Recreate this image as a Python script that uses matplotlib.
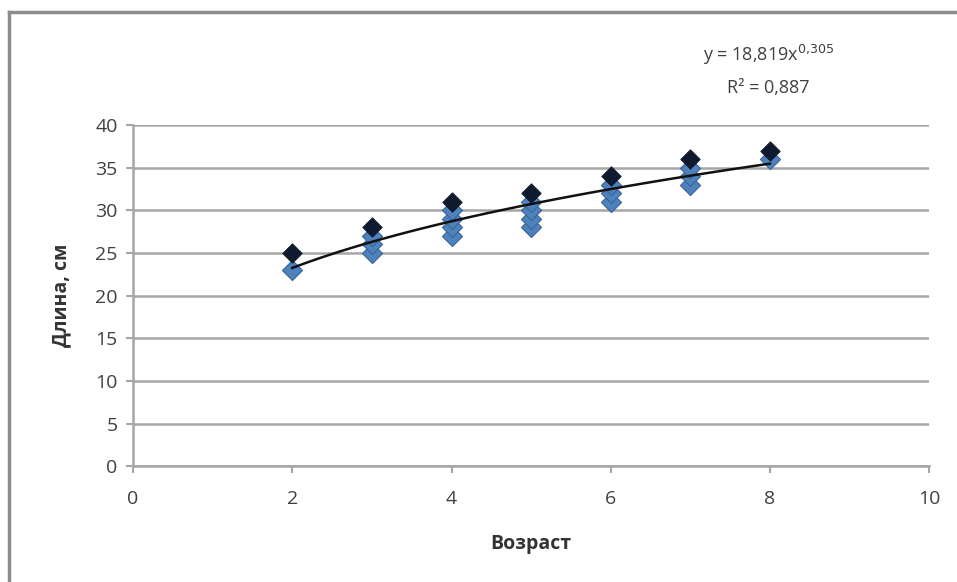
import numpy as np
import matplotlib.pyplot as plt
from matplotlib.lines import Line2D

plt.rcParams['font.family'] = ['Open Sans', 'DejaVu Sans']

# data
ages = [2, 3, 3, 3, 4, 4, 4, 4, 5, 5, 5, 5, 6, 6, 6, 7, 7, 7, 8]
lengths = [23, 25, 26, 27, 27, 28, 29, 30, 28, 29, 30, 31, 31, 32, 33, 33, 34, 35, 36]
top_ages = [2, 3, 4, 5, 6, 7, 8]
top_lengths = [25, 28, 31, 32, 34, 36, 37]

# power trendline from the chart
coef_a = 18.819
coef_b = 0.305
r2 = 0.887

fig = plt.figure(figsize=(9.57, 5.82), dpi=100)
ax = fig.add_axes([0.139, 0.199, 0.832, 0.586])

# outer chart frame (cut off at right and bottom in the picture)
fig.add_artist(Line2D([0.009, 0.009], [0, 0.979], color='#8c8c8c', lw=2.5))
fig.add_artist(Line2D([0.009, 1.0], [0.979, 0.979], color='#8c8c8c', lw=2.5))

ax.scatter(ages, lengths, marker='D', s=105, color='#4f81bd', edgecolor='#3a6597',
           linewidth=0.8, zorder=3)
ax.scatter(top_ages, top_lengths, marker='D', s=95, color='#0f1a2e', edgecolor='#0f1a2e',
           linewidth=0.8, zorder=3)

xs = np.linspace(2, 8, 100)
ax.plot(xs, coef_a * xs ** coef_b, color='#111111', lw=1.8, zorder=4)

ax.set_xlim(0, 10)
ax.set_ylim(0, 40)
ax.set_xticks(range(0, 11, 2))
ax.set_yticks(range(0, 41, 5))
ax.yaxis.grid(True, color='#a6a6a6', lw=1.8)
ax.set_axisbelow(True)
for side in ['top', 'right']:
    ax.spines[side].set_visible(False)
for side in ['left', 'bottom']:
    ax.spines[side].set_color('#a6a6a6')
    ax.spines[side].set_linewidth(1.8)
ax.tick_params(axis='both', colors='#a6a6a6', width=1.5, length=5,
               labelcolor='#404040', labelsize=14)
ax.tick_params(axis='y', pad=6)
ax.tick_params(axis='x', pad=12)

ax.set_xlabel('Возраст', fontsize=14, fontweight='bold', color='#333333', labelpad=19)
ax.set_ylabel('Длина, см', fontsize=14, fontweight='bold', color='#333333', labelpad=17)

exp_txt = f'{coef_b:g}'.replace('.', '{,}')
ax.text(0.798, 1.205, f'y = {coef_a:g}'.replace('.', ',') + f'x$^{{{exp_txt}}}$',
        transform=ax.transAxes, ha='center', va='center', fontsize=13, color='#404040')
ax.text(0.798, 1.108, f'R² = {r2:g}'.replace('.', ','),
        transform=ax.transAxes, ha='center', va='center', fontsize=13, color='#404040')

fig.savefig('out.png', dpi=100)
